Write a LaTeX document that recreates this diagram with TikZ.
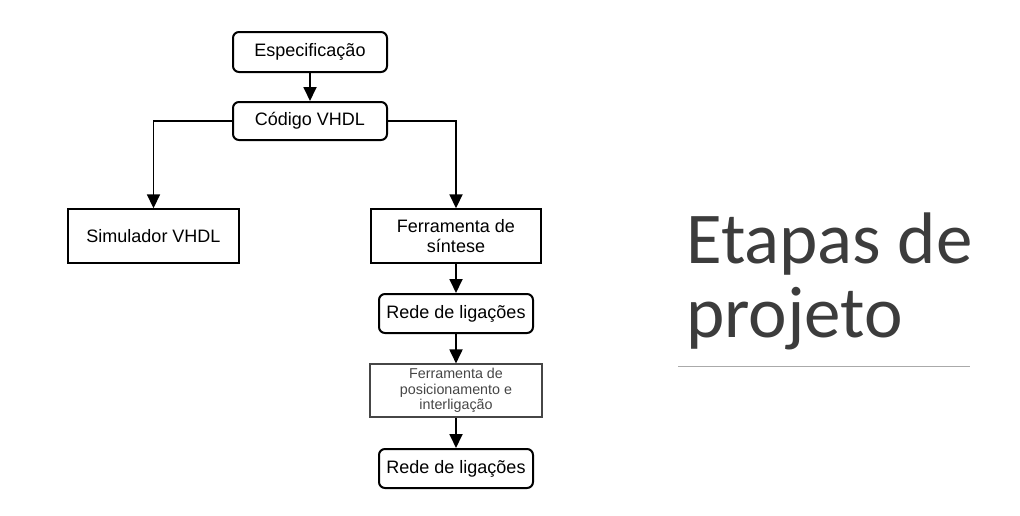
\documentclass[tikz,border=0pt]{standalone}
\usepackage{fontspec}
\setmainfont{Liberation Sans}
\newfontfamily\titlefont{Carlito}
\usepackage{tikz}
\usetikzlibrary{arrows.meta}
\definecolor{titlegray}{RGB}{60, 60, 60}
\definecolor{rulegray}{RGB}{170, 170, 170}
\definecolor{textgray}{RGB}{70, 70, 70}

\begin{document}
\begin{tikzpicture}[x = 1pt, y = -1pt,
	roundbox/.style = {draw, line width = 2pt, rounded corners = 6pt, align = center, inner sep = 0pt, font = \fontsize{18}{20}\selectfont},
	sqbox/.style = {draw, line width = 1.4pt, align = center, inner sep = 0pt, font = \fontsize{18}{20}\selectfont},
	arr/.style = {line width = 1.8pt, -{Triangle[length = 14pt, width = 13pt]}}]
			\useasboundingbox (0,0) rectangle (1020,515);
			\node (espec) at (310,52) [roundbox, minimum width = 154pt, minimum height = 40pt] {Especificação};
			\node (codigo) at (310,121) [roundbox, minimum width = 154pt, minimum height = 38pt] {Código VHDL};
			\node (simul) at (153.5,236) [sqbox, minimum width = 171pt, minimum height = 54pt] {Simulador VHDL};
			\node (sintese) at (456,236) [sqbox, minimum width = 170pt, minimum height = 54pt] {Ferramenta de\\síntese};
			\node (rede1) at (456,313.5) [roundbox, minimum width = 154pt, minimum height = 39pt] {Rede de ligações};
			\node (posic) at (456,390.5) [sqbox, line width = 1.1pt, draw = textgray, text = textgray, minimum width = 172pt, minimum height = 53pt, font = \fontsize{14.3}{15.5}\selectfont] {Ferramenta de\\posicionamento e\\interligação};
			\node (rede2) at (456,468.5) [roundbox, minimum width = 154pt, minimum height = 39pt] {Rede de ligações};
			\draw[arr] (espec) -- (codigo);
			\draw[arr] (codigo.west) -| (simul.north);
			\draw[arr] (codigo.east) -| (sintese.north);
			\draw[arr] (sintese) -- (rede1);
			\draw[arr] (rede1) -- (posic);
			\draw[arr] (posic) -- (rede2);
			% titulo
			\node (titulo1) at (686,263) [anchor = base west, inner sep = 0pt, text = titlegray, font = \titlefont\fontsize{73}{73}\selectfont] {Etapas de};
			\node (titulo2) at (686,337) [anchor = base west, inner sep = 0pt, text = titlegray, font = \titlefont\fontsize{73}{73}\selectfont] {projeto};
			\draw[rulegray, line width = 1pt] (678,366) -- (970,366);
\end{tikzpicture}
\end{document}
